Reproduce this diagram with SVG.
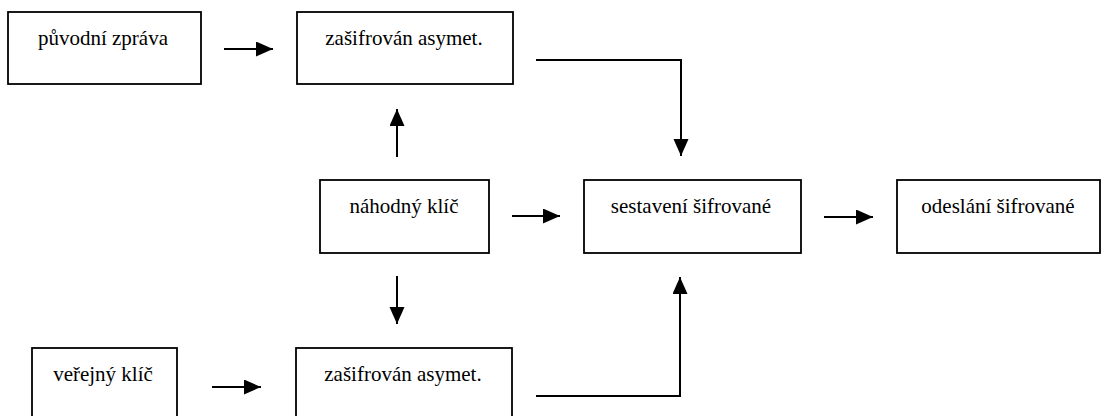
<svg xmlns="http://www.w3.org/2000/svg" width="1101" height="416" viewBox="0 0 1101 416">
  <style>
    .box { fill: #fff; stroke: #000; stroke-width: 1.8; }
    .lbl { font-family: 'Liberation Serif', 'Times New Roman', serif; font-size: 21px; fill: #000; text-anchor: middle; }
    .wire { fill: none; stroke: #000; stroke-width: 2; marker-end: url(#head); }
  </style>
  <defs>
    <marker id="head" markerUnits="userSpaceOnUse" markerWidth="18" markerHeight="16" refX="17" refY="7.5" orient="auto">
      <path d="M0,0 L17,7.5 L0,15 Z" fill="#000"/>
    </marker>
  </defs>
  <rect width="1101" height="416" fill="#fff"/>

  <!-- top row -->
  <g id="puvodni-zprava">
    <rect class="box" x="8" y="12" width="193" height="72"/>
    <text class="lbl" x="103" y="45">původní zpráva</text>
  </g>
  <g id="zasifrovan-horni">
    <rect class="box" x="297" y="12" width="216" height="72"/>
    <text class="lbl" x="404" y="45">zašifrován asymet.</text>
  </g>

  <!-- middle row -->
  <g id="nahodny-klic">
    <rect class="box" x="320" y="180" width="169" height="73"/>
    <text class="lbl" x="404" y="213">náhodný klíč</text>
  </g>
  <g id="sestaveni">
    <rect class="box" x="584" y="180" width="217" height="73"/>
    <text class="lbl" x="691" y="213">sestavení šifrované</text>
  </g>
  <g id="odeslani">
    <rect class="box" x="897" y="180" width="203" height="73"/>
    <text class="lbl" x="998" y="213">odeslání šifrované</text>
  </g>

  <!-- bottom row (boxes run past the lower edge) -->
  <g id="verejny-klic">
    <rect class="box" x="32" y="348" width="145" height="80"/>
    <text class="lbl" x="103" y="381">veřejný klíč</text>
  </g>
  <g id="zasifrovan-dolni">
    <rect class="box" x="296" y="348" width="216" height="80"/>
    <text class="lbl" x="403" y="381">zašifrován asymet.</text>
  </g>

  <g id="connectors">
    <path class="wire" d="M224,49 H273"/>
    <path class="wire" d="M536,60 H681 V156"/>
    <path class="wire" d="M397,157 V109"/>
    <path class="wire" d="M512,216 H560"/>
    <path class="wire" d="M824,217 H873"/>
    <path class="wire" d="M397,276 V324"/>
    <path class="wire" d="M212,387 H261"/>
    <path class="wire" d="M536,396 H680 V277"/>
  </g>
</svg>
